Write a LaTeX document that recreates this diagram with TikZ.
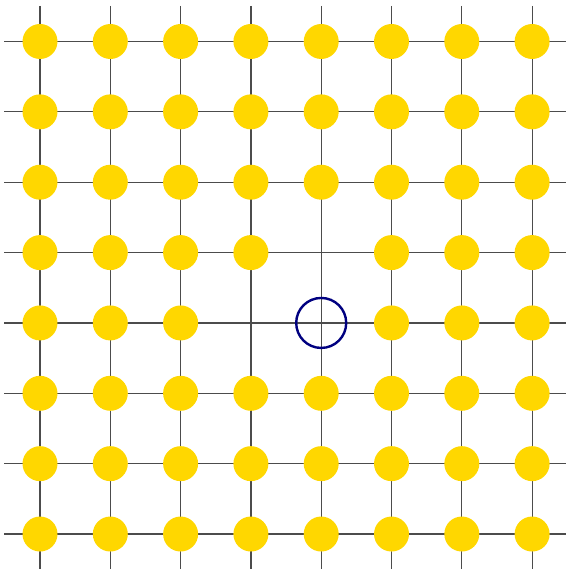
\documentclass[tikz,border=0pt]{standalone}
\begin{document}
\begin{tikzpicture}[x=1pt,y=-1pt,
  gridline/.style={draw=black!70,line width=1.2pt},
  dot/.style={circle,fill={rgb,255:red,255;green,215;blue,0},minimum size=35pt,inner sep=0pt,draw=none},
  hole/.style={circle,draw={rgb,255:red,0;green,0;blue,128},line width=2.4pt,minimum size=50pt,inner sep=0pt}]
\useasboundingbox (0,0) rectangle (566,569);
% grid coordinates
\foreach \i in {0,...,7}{
  \coordinate (top\i) at ({40+70.3*\i},6);
  \coordinate (bot\i) at ({40+70.3*\i},569);
  \coordinate (lft\i) at (4,{41.5+70.36*\i});
  \coordinate (rgt\i) at (566,{41.5+70.36*\i});
}
\foreach \i in {0,...,7}{
  \draw[gridline] (top\i) -- (bot\i);
  \draw[gridline] (lft\i) -- (rgt\i);
}
\foreach \r in {0,...,7}{
  \foreach \c in {0,...,7}{
    \pgfmathtruncatemacro{\skip}{(\r==3 && \c==4) || (\r==4 && \c==3) || (\r==4 && \c==4) ? 1 : 0}
    \ifnum\skip=0
      \node[dot] (d\r\c) at ({40+70.3*\c},{41.5+70.36*\r}) {};
    \fi
  }
}
\node[hole] (empty) at ({40+70.3*4},{41.5+70.36*4}) {};
\end{tikzpicture}
\end{document}
